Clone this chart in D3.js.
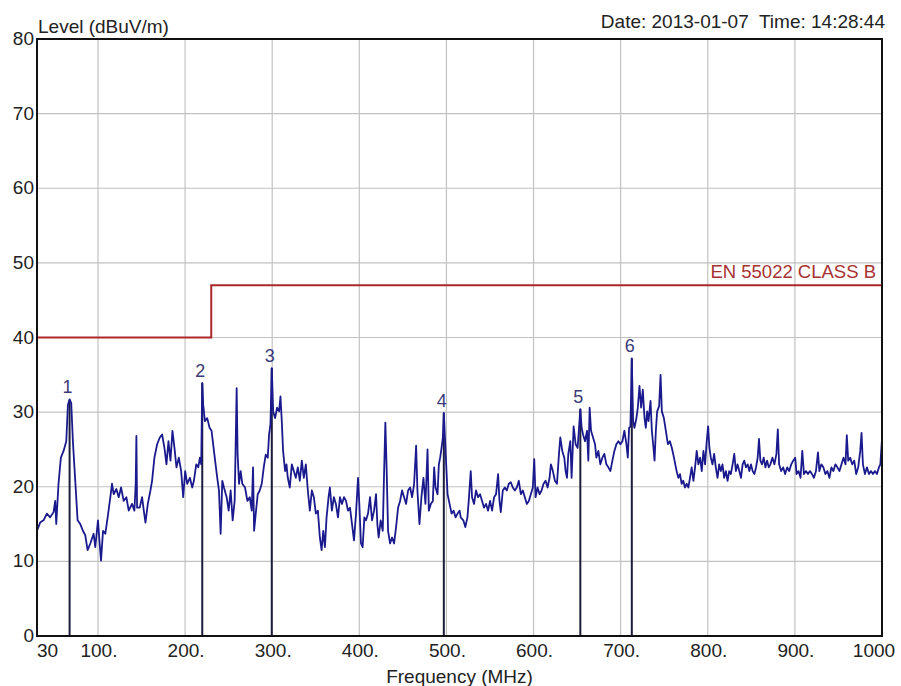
<!DOCTYPE html>
<html>
<head>
<meta charset="utf-8">
<script src="https://cdn.jsdelivr.net/npm/d3@7"></script>
<style>
  body { margin: 0; background: #fff; }
  text { font-family: Arial, "Liberation Sans", sans-serif; }
</style>
</head>
<body>
<script>
/* global d3 */

// Data
const xTicks = [30, 100, 200, 300, 400, 500, 600, 700, 800, 900, 1000];
const xTickLabels = ['30', '100.', '200.', '300.', '400.', '500.', '600.', '700.', '800.', '900.', '1000'];
const yTicks = [0, 10, 20, 30, 40, 50, 60, 70, 80];

const limitFreq = [30, 230, 230, 1000];
const limitLevel = [40, 40, 47, 47];
const limitName = 'EN 55022 CLASS B';

const markerFreq = [67.4, 219.7, 299.5, 497.0, 653.7, 712.8];
const markerLevel = [31.7, 33.9, 35.9, 29.9, 30.4, 37.2];

// [frequency MHz, level dBuV/m]
const trace = [
  [30, 14.1], [33.6, 15.2], [37.5, 15.5], [41.3, 16.4], [45.1, 15.9], [49, 16.6], [50.9, 18.1], [52.1, 15.0],
  [54.7, 20.4], [57.4, 23.9], [60.5, 24.8], [63.6, 26.1], [65.5, 31.0], [67.4, 31.7], [69.3, 31.2], [71.2, 26.1],
  [73.9, 20.8], [76.6, 15.5], [79.7, 15.0], [82.7, 14.1], [85.4, 13.5], [88.1, 11.5], [91.2, 12.4], [95, 13.7],
  [96.9, 11.9], [100, 15.5], [101.9, 12.4], [103.5, 10.1], [105.8, 14.1], [108.4, 13.7], [111.1, 15.9], [114.2, 18.6],
  [116.1, 20.4], [118, 19.0], [121.1, 19.7], [123.8, 18.6], [126.5, 19.9], [129.5, 18.1], [132.6, 18.6], [135.3, 16.8],
  [139.1, 17.7], [141.8, 16.8], [143.3, 20.4], [144.1, 26.8], [144.9, 17.2], [147.9, 17.2], [150.6, 18.6], [152.6, 16.8],
  [154.5, 15.2], [157.2, 17.7], [160.2, 19.5], [162.1, 20.8], [164.8, 23.9], [167.9, 25.7], [171, 26.6], [173.6, 27.0],
  [176.3, 25.2], [178.6, 23.0], [180.9, 26.1], [183.2, 23.5], [185.5, 27.5], [187.8, 25.2], [190.1, 22.6], [192.8, 23.9],
  [195.5, 22.1], [197.8, 18.6], [200.1, 22.1], [202.4, 20.4], [205.5, 21.2], [208.2, 19.9], [210.1, 20.8], [212.8, 23.0],
  [215.1, 22.6], [217, 23.9], [218.5, 23.0], [219.7, 33.9], [220.8, 31.0], [222.7, 28.8], [225.4, 29.2], [228.1, 27.9],
  [230.4, 27.5], [232.7, 25.2], [235, 23.0], [236.9, 21.2], [238.9, 19.5], [240.8, 13.7], [242.7, 20.8], [244.6, 19.9],
  [247.7, 18.6], [250, 16.8], [252.3, 19.5], [254.6, 15.5], [256.9, 18.1], [259.2, 33.2], [260.3, 24.3],
  [261.9, 20.4], [263.8, 22.1], [265.7, 20.4], [268.8, 19.9], [271.5, 18.1], [274.2, 18.6], [276.5, 16.8], [278.0, 22.6],
  [279.2, 14.1], [281.1, 16.4], [283.4, 19.0], [285.7, 19.5], [288.0, 20.4], [290.3, 22.6], [292.6, 24.3], [294.9, 23.9],
  [296.4, 27.0], [298.0, 28.4], [299.5, 35.9], [301.1, 30.1], [303.3, 29.2], [305.6, 30.6], [307.9, 30.1], [309.5, 32.1],
  [311.0, 28.8], [312.5, 24.8], [314.8, 22.1], [316.4, 23.0], [317.9, 21.2], [320.2, 19.9], [322.5, 23.0], [324.8, 22.1],
  [327.1, 21.2], [329.4, 22.6], [331.7, 20.8], [334.0, 23.5], [336.3, 21.2], [338.6, 23.0], [340.9, 19.5], [343.2, 16.8],
  [345.5, 19.5], [347.8, 18.6], [350.1, 16.4], [352.4, 16.8], [354.7, 13.2], [356.7, 11.5], [358.6, 14.1], [360.5, 11.9],
  [362.4, 15.9], [364.7, 18.6], [366.2, 19.9], [368.5, 16.8], [370.8, 18.6], [373.1, 17.7], [375.5, 15.9], [377.8, 18.6],
  [380.1, 17.7], [382.4, 18.6], [384.7, 18.1], [387.0, 16.8], [389.3, 17.2], [391.6, 15.0], [393.9, 12.8], [396.2, 16.4],
  [398.5, 21.2], [400, 17.7], [401.9, 12.4], [403.8, 11.9], [405.8, 15.9], [407.7, 15.5], [410, 16.4], [412.3, 18.6],
  [414.6, 15.5], [416.9, 16.8], [419.2, 19.0], [420.7, 15.0], [422.2, 13.2], [424.5, 15.5], [426.9, 14.1], [428.4, 21.7],
  [429.9, 28.6], [431.5, 21.7], [433.0, 14.1], [435.3, 12.4], [437.6, 13.2], [439.9, 12.4], [442.2, 14.6], [444.5, 17.2],
  [446.8, 18.1], [449.1, 19.5], [451.4, 18.6], [453.7, 17.7], [456.0, 19.5], [458.3, 19.9], [460.6, 18.6], [462.9, 20.4],
  [465.2, 25.5], [466.7, 19.5], [469.0, 15.0], [471.3, 18.6], [473.6, 21.2], [475.9, 17.7], [478.3, 25.0], [479.8, 16.8],
  [482.1, 17.7], [484.4, 18.1], [485.9, 22.6], [487.5, 19.9], [489.8, 19.0], [491.3, 23.0], [492.8, 23.9], [494.4, 25.2],
  [495.9, 26.6], [497.0, 29.9], [499.0, 24.8], [501.3, 19.0], [503.6, 17.7], [505.9, 16.4], [508.2, 16.8], [510.5, 15.9],
  [512.8, 16.4], [515.1, 16.8],
  [516.4, 15.9], [519.4, 15.5], [521.7, 14.6], [524.1, 15.9], [525.6, 18.1], [527.9, 22.1], [529.4, 18.6], [531.7, 17.7],
  [534.0, 19.5], [536.3, 18.6], [538.6, 19.0], [540.9, 18.1], [543.2, 17.2], [545.5, 17.7], [547.8, 16.8], [550.1, 18.1],
  [552.4, 16.8], [554.7, 18.6], [557.0, 19.0], [559.3, 21.7], [560.9, 18.1], [562.4, 16.6], [564.7, 19.5], [567.0, 19.9],
  [569.3, 19.5], [571.6, 20.4], [573.9, 20.6], [576.2, 19.9], [578.5, 19.5], [580.8, 19.9], [583.1, 20.8], [585.4, 19.0],
  [587.7, 19.5], [590.0, 18.6], [592.3, 17.7], [594.6, 18.1], [596.9, 19.0], [599.2, 19.9], [600.8, 23.7], [602.3, 18.6],
  [604.6, 19.9], [606.9, 19.0], [609.2, 19.5], [611.5, 20.4], [613.8, 20.8], [616.1, 19.9], [618.4, 21.2], [619.9, 23.0],
  [622.2, 22.1], [624.5, 20.8], [626.9, 20.4], [629.2, 24.4], [630.7, 26.6], [633.0, 24.8], [635.3, 23.9], [636.8, 22.1],
  [638.4, 21.2], [639.9, 24.4], [642.2, 26.1], [643.7, 21.2], [646.0, 28.1], [648.3, 25.7], [650.6, 25.2], [652.2, 27.9],
  [653.7, 30.4], [655.2, 27.9], [656.8, 27.0], [659.1, 26.1], [661.4, 27.5], [662.9, 23.5], [664.4, 30.6], [666.0, 27.5],
  [668.3, 26.6], [670.6, 25.7], [672.1, 23.9], [674.4, 24.8], [676.7, 23.0], [679.0, 23.9], [681.3, 24.4], [683.6, 23.0],
  [685.9, 22.6], [688.2, 22.1], [690.5, 23.5], [692.8, 24.8], [695.1, 25.7], [697.4, 26.1], [699.7, 25.7], [702.0, 26.1],
  [704.3, 27.5], [706.6, 25.7], [708.2, 23.9], [709.7, 27.9], [711.2, 28.1], [712.8, 37.2], [714.3, 28.8], [715.8, 27.9],
  [718.1, 29.2], [719.7, 30.6], [721.6, 33.5], [723.5, 30.6], [725.4, 33.0], [727.4, 29.2], [728.9, 27.9], [730.4, 30.1],
  [732.0, 28.8], [734.3, 31.5], [735.8, 27.5], [737.3, 25.7], [738.9, 23.5], [740.4, 27.5], [741.9, 30.1], [744.2, 30.8],
  [745.8, 35.0], [747.3, 30.1], [749.6, 29.2], [751.9, 27.5], [754.2, 25.7], [756.5, 26.1],
  [758.8, 25.2], [761.2, 23.9], [762.7, 23.0], [764.2, 22.1], [766.2, 21.2], [768.1, 21.7], [770.0, 20.4], [771.9, 20.8],
  [773.8, 19.9], [775.8, 20.4], [777.7, 19.9], [779.6, 21.2], [781.5, 22.6], [783.5, 20.8], [785.4, 22.6], [787.3, 24.8],
  [789.2, 23.0], [791.2, 23.9], [793.1, 22.1], [795.0, 24.8], [796.9, 23.0], [798.8, 26.1], [800.4, 28.1], [801.9, 25.2],
  [803.5, 23.9], [805.4, 23.0], [807.3, 24.4], [809.2, 22.6], [811.2, 21.2], [813.1, 23.0], [815.0, 22.1], [816.9, 23.0],
  [818.8, 21.2], [820.8, 22.1], [822.7, 20.8], [824.6, 22.1], [826.5, 21.7], [828.5, 23.0], [830.4, 24.4], [832.3, 22.1],
  [834.2, 23.0], [836.2, 22.1], [838.1, 21.2], [840.0, 23.0], [841.9, 23.5], [843.8, 22.6], [845.8, 23.0], [847.7, 22.1],
  [849.6, 23.0], [851.5, 22.1], [853.5, 21.7], [855.4, 22.6], [857.3, 23.9], [858.8, 26.4], [860.4, 23.5], [862.3, 23.0],
  [864.2, 23.9], [866.2, 22.6], [868.1, 23.5], [870.0, 22.6], [871.9, 23.0], [874.2, 23.9], [876.5, 23.0], [878.8, 24.4],
  [880.4, 27.7], [881.9, 23.0], [884.2, 22.1], [886.5, 22.6], [888.8, 21.7], [891.2, 22.6], [893.5, 22.1], [895.8, 23.0],
  [898.1, 23.5], [900.4, 23.9], [901.9, 21.7], [904.2, 22.1], [906.5, 21.2], [908.5, 24.8], [910.4, 21.7], [912.7, 22.1],
  [915.0, 21.7], [917.3, 22.1], [919.6, 21.7], [921.9, 21.2], [924.2, 22.1], [926.5, 24.6], [928.1, 22.1], [930.4, 23.0],
  [932.7, 22.6], [935.0, 21.7], [937.3, 22.1], [939.6, 21.2], [941.9, 22.6], [944.2, 22.1], [946.5, 23.0], [948.8, 22.6],
  [951.2, 22.1], [953.5, 23.0], [955.8, 23.9], [958.1, 23.0], [959.6, 26.9], [961.2, 23.5], [963.5, 23.9], [965.8, 23.0],
  [968.1, 23.5], [970.4, 21.7], [972.7, 22.6], [975.0, 24.8], [976.5, 27.2], [978.1, 23.0], [980.4, 21.7], [982.7, 22.6],
  [985.0, 21.7], [987.3, 22.1], [989.6, 21.7], [991.9, 22.1], [994.2, 21.7], [996.5, 22.6], [998.1, 23.0], [1000, 26.4]
];

// SVG setup
const width = 901;
const height = 686;
const plotLeft = 37;
const plotRight = 882;
const plotTop = 39;
const plotBottom = 636;

const svg = d3.select('body')
  .append('svg')
  .attr('width', width)
  .attr('height', height);

const xScale = d3.scaleLinear().domain([30, 1000]).range([plotLeft, plotRight]);
const yScale = d3.scaleLinear().domain([0, 80]).range([plotBottom, plotTop]);

// Grid
svg.append('g')
  .selectAll('line')
  .data(xTicks.slice(1, -1))
  .enter()
  .append('line')
  .attr('x1', d => xScale(d))
  .attr('x2', d => xScale(d))
  .attr('y1', plotTop)
  .attr('y2', plotBottom)
  .attr('stroke', '#c2c2c2')
  .attr('stroke-width', 1.2);

svg.append('g')
  .selectAll('line')
  .data(yTicks.slice(1, -1))
  .enter()
  .append('line')
  .attr('x1', plotLeft)
  .attr('x2', plotRight)
  .attr('y1', d => yScale(d))
  .attr('y2', d => yScale(d))
  .attr('stroke', '#c2c2c2')
  .attr('stroke-width', 1.2);

// Limit line
const limitData = limitFreq.map((f, i) => [f, limitLevel[i]]);
svg.append('path')
  .datum(limitData)
  .attr('fill', 'none')
  .attr('stroke', '#ab2828')
  .attr('stroke-width', 2)
  .attr('d', d3.line().x(d => xScale(d[0])).y(d => yScale(d[1])));

svg.append('text')
  .attr('x', plotRight - 6)
  .attr('y', yScale(47) - 7)
  .attr('text-anchor', 'end')
  .attr('font-size', '18.5px')
  .attr('fill', '#a83232')
  .text(limitName);

// Markers
svg.append('g')
  .selectAll('line')
  .data(markerFreq)
  .enter()
  .append('line')
  .attr('x1', d => xScale(d))
  .attr('x2', d => xScale(d))
  .attr('y1', (d, i) => yScale(markerLevel[i]))
  .attr('y2', plotBottom)
  .attr('stroke', '#1c1c3c')
  .attr('stroke-width', 2);

// Trace
svg.append('path')
  .datum(trace)
  .attr('fill', 'none')
  .attr('stroke', '#1a1a8e')
  .attr('stroke-width', 1.8)
  .attr('stroke-linejoin', 'round')
  .attr('d', d3.line().x(d => xScale(d[0])).y(d => yScale(d[1])));

svg.append('g')
  .selectAll('text')
  .data(markerFreq)
  .enter()
  .append('text')
  .attr('x', d => xScale(d) - 2)
  .attr('y', (d, i) => yScale(markerLevel[i]) - 6)
  .attr('text-anchor', 'middle')
  .attr('font-size', '18px')
  .attr('fill', '#3a3a78')
  .text((d, i) => i + 1);

// Frame
svg.append('rect')
  .attr('x', plotLeft)
  .attr('y', plotTop)
  .attr('width', plotRight - plotLeft)
  .attr('height', plotBottom - plotTop)
  .attr('fill', 'none')
  .attr('stroke', '#111')
  .attr('stroke-width', 2);

// Axis labels
svg.append('g')
  .selectAll('text')
  .data(yTicks)
  .enter()
  .append('text')
  .attr('x', plotLeft - 3)
  .attr('y', d => yScale(d) + 6)
  .attr('text-anchor', 'end')
  .attr('font-size', '19px')
  .attr('fill', '#222')
  .text(d => d);

svg.append('g')
  .selectAll('text')
  .data(xTicks)
  .enter()
  .append('text')
  .attr('x', (d, i) => {
    if (i === 0) return xScale(d);
    if (i === xTicks.length - 1) return xScale(d) - 8;
    return xScale(d) + 1;
  })
  .attr('y', plotBottom + 21)
  .attr('text-anchor', (d, i) => i === 0 ? 'start' : 'middle')
  .attr('font-size', '19px')
  .attr('fill', '#222')
  .text((d, i) => xTickLabels[i]);

svg.append('text')
  .attr('x', plotLeft + 1)
  .attr('y', 33)
  .attr('font-size', '19px')
  .attr('fill', '#222')
  .text('Level (dBuV/m)');

svg.append('text')
  .attr('x', plotRight + 3)
  .attr('y', 28)
  .attr('text-anchor', 'end')
  .attr('font-size', '19px')
  .attr('fill', '#222')
  .style('white-space', 'pre')
  .text('Date: 2013-01-07  Time: 14:28:44');

svg.append('text')
  .attr('x', (plotLeft + plotRight) / 2)
  .attr('y', 683)
  .attr('text-anchor', 'middle')
  .attr('font-size', '19px')
  .attr('fill', '#222')
  .text('Frequency (MHz)');
</script>
</body>
</html>
